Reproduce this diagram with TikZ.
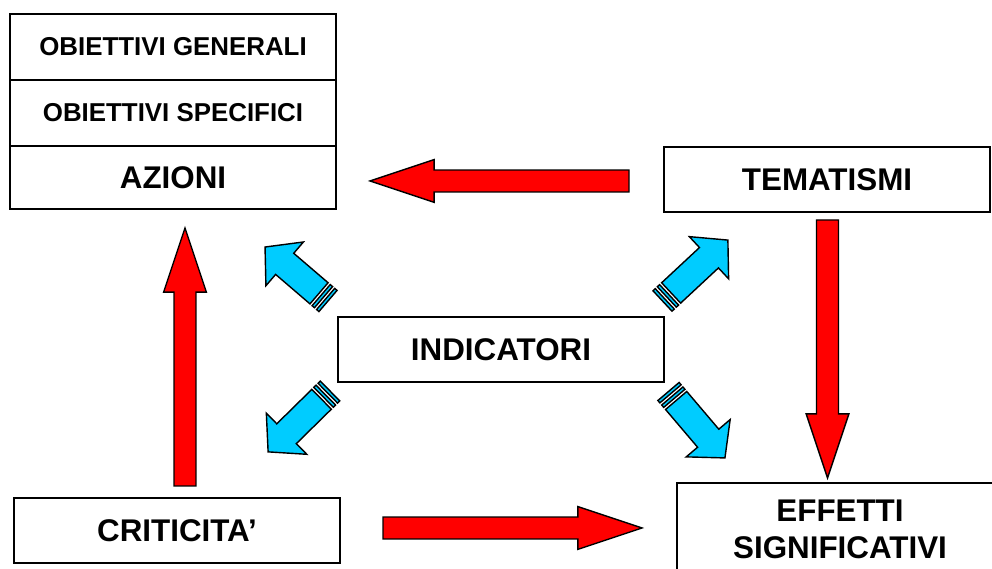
\documentclass[tikz,border=0pt]{standalone}
\usepackage{fontspec}
\setmainfont{Liberation Sans}
\usetikzlibrary{calc}

\definecolor{skyblue}{RGB}{0,204,255}

\tikzset{
  box/.style={draw, line width=1.4pt, minimum width=8.15cm, minimum height=1.625cm, inner sep=0pt},
  bigtext/.style={font=\fontsize{22.3}{26.2}\selectfont\bfseries},
  smalltext/.style={font=\fontsize{18.4}{22}\selectfont\bfseries},
  redarr/.style={draw, line width=1pt, fill=red, line join=miter},
  bluearr/.style={draw, line width=1pt, fill=skyblue, line join=miter},
}

% block arrow from #1 (tail) to #2 (tip)
\newcommand{\redarrow}[2]{%
  \draw[redarr] let \p1=(#1), \p2=(#2),
    \n1={atan2(\y2-\y1,\x2-\x1)}, \n2={veclen(\x2-\x1,\y2-\y1)} in
    [shift={(\p1)}, rotate=\n1]
    (0pt,-7.8pt) -- ({\n2*1pt-45.6pt},-7.8pt) -- ({\n2*1pt-45.6pt},-15.2pt)
    -- ({\n2*1pt},0pt) -- ({\n2*1pt-45.6pt},15.2pt) -- ({\n2*1pt-45.6pt},7.8pt)
    -- (0pt,7.8pt) -- cycle;}

% striped block arrow from #1 (tail) to #2 (tip)
\newcommand{\bluearrow}[2]{%
  \draw[bluearr] let \p1=(#1), \p2=(#2),
    \n1={atan2(\y2-\y1,\x2-\x1)}, \n2={veclen(\x2-\x1,\y2-\y1)} in
    [shift={(\p1)}, rotate=\n1]
    (0pt,-9.9pt) -- (2.2pt,-9.9pt) -- (2.2pt,9.9pt) -- (0pt,9.9pt) -- cycle
    (4.2pt,-9.9pt) -- (6.4pt,-9.9pt) -- (6.4pt,9.9pt) -- (4.2pt,9.9pt) -- cycle
    (8.4pt,-9.9pt) -- ({\n2*1pt-18.4pt},-9.9pt) -- ({\n2*1pt-18.4pt},-20.5pt)
    -- ({\n2*1pt},0pt) -- ({\n2*1pt-18.4pt},20.5pt) -- ({\n2*1pt-18.4pt},9.9pt)
    -- (8.4pt,9.9pt) -- cycle;}

\begin{document}
\begin{tikzpicture}[x=0.025cm, y=0.025cm]
    \clip (0,0) rectangle (992,569);

    % Obiettivi / azioni
    \node[box, smalltext, minimum height=1.65cm] (ogen) at (173,522) {OBIETTIVI GENERALI};
    \node[box, smalltext, minimum height=1.65cm] (ospec) at (173,456) {OBIETTIVI SPECIFICI};
    \node[box, bigtext, minimum height=1.575cm] (azioni) at (173,391.5) {AZIONI};

    % Altri riquadri
    \node[box, bigtext] (temat) at (827,389.5) {TEMATISMI};
    \node[box, bigtext] (indic) at (501,219.5) {INDICATORI};
    \node[box, bigtext] (critic) at (177,38.5) {CRITICITA’};
    \node[box, minimum width=8.075cm, minimum height=2.65cm] (effetti) at (838.5,33) {};
    \node[bigtext, align=center] (effettitxt) at (840,40) {EFFETTI\\SIGNIFICATIVI};

    % Frecce rosse
    \coordinate (tailTA) at (629,388);   \coordinate (tipTA) at (370,388);
    \coordinate (tailCA) at (185,83);    \coordinate (tipCA) at (185,341);
    \coordinate (tailTE) at (827.5,349); \coordinate (tipTE) at (827.5,91);
    \coordinate (tailCE) at (383,41);    \coordinate (tipCE) at (642,41);
    \redarrow{tailTA}{tipTA}
    \redarrow{tailCA}{tipCA}
    \redarrow{tailTE}{tipTE}
    \redarrow{tailCE}{tipCE}

    % Frecce blu (indicatori)
    \coordinate (tailIA) at (328,268);   \coordinate (tipIA) at (265,322);
    \coordinate (tailIT) at (662.5,268); \coordinate (tipIT) at (728,329);
    \coordinate (tailIC) at (330,178);   \coordinate (tipIC) at (268,117);
    \coordinate (tailIE) at (668.5,177.5); \coordinate (tipIE) at (725,111);
    \bluearrow{tailIA}{tipIA}
    \bluearrow{tailIT}{tipIT}
    \bluearrow{tailIC}{tipIC}
    \bluearrow{tailIE}{tipIE}
\end{tikzpicture}
\end{document}
